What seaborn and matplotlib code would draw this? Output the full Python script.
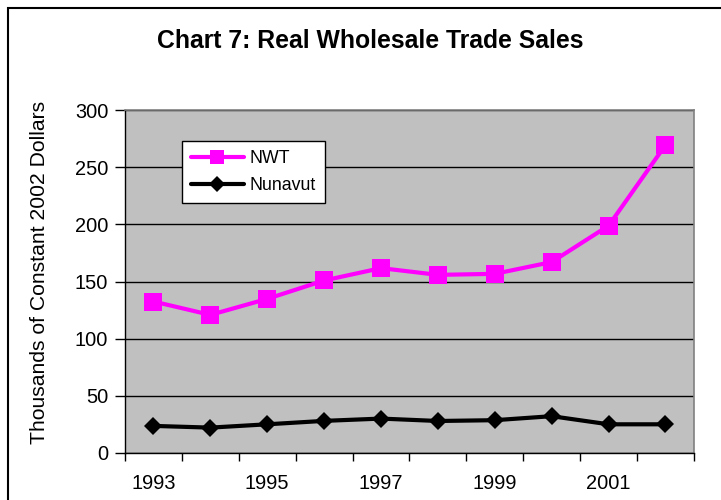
import numpy as np
import pandas as pd
import matplotlib
matplotlib.use("Agg")
import matplotlib.pyplot as plt
from matplotlib.patches import Rectangle
from matplotlib.ticker import FixedLocator, NullFormatter
import seaborn as sns

# Données
years = [1993, 1994, 1995, 1996, 1997, 1998, 1999, 2000, 2001, 2002]
nwt = [132.5, 120.8, 134.8, 150.9, 161.7, 155.8, 156.7, 167.0, 198.8, 269.3]
nunavut = [23.7, 22.2, 25.1, 28.1, 30.1, 28.0, 28.7, 32.2, 25.1, 25.1]
series = ["NWT", "Nunavut"]
year_labels = [1993, 1995, 1997, 1999, 2001]

df = pd.DataFrame({
    "year": years * 2,
    "value": nwt + nunavut,
    "series": ["NWT"] * len(years) + ["Nunavut"] * len(years),
})

sns.set_style("white")
plt.rcParams["font.family"] = ["Liberation Sans", "DejaVu Sans"]
plt.rcParams.update({"text.color": "black", "axes.labelcolor": "black",
                     "xtick.color": "black", "ytick.color": "black"})

fig = plt.figure(figsize=(7.21, 5.0), dpi=100)
ax = fig.add_axes([0.1734, 0.094, 0.789, 0.686])
ax.set_facecolor("#C0C0C0")

sns.lineplot(
    data=df, x="year", y="value", hue="series", style="series",
    hue_order=series, style_order=series,
    palette={"NWT": "#FF00FF", "Nunavut": "#000000"},
    markers={"NWT": "s", "Nunavut": "D"}, dashes=False,
    linewidth=3, markersize=12, markeredgewidth=0, ax=ax,
)
for line, ms in zip(ax.lines[:2], [13, 9]):
    line.set_markersize(ms)

ax.set_xlim(1992.5, 2002.5)
ax.set_ylim(0, 300)
ax.set_yticks(range(0, 301, 50))
ax.yaxis.grid(True, color="black", linewidth=1)
ax.set_axisbelow(True)

ax.xaxis.set_major_locator(FixedLocator(np.arange(1992.5, 2003, 1)))
ax.xaxis.set_major_formatter(NullFormatter())
ax.xaxis.set_minor_locator(FixedLocator(year_labels))
ax.set_xticklabels([str(y) for y in year_labels], minor=True)
ax.tick_params(axis="x", which="major", direction="out", length=6, color="black", width=1, bottom=True)
ax.tick_params(axis="x", which="minor", length=0, labelsize=14.4, pad=15)
ax.tick_params(axis="y", direction="out", length=7, color="black", width=1, left=True, labelsize=14.4, pad=5)

for side in ["left", "bottom"]:
    ax.spines[side].set_color("black")
    ax.spines[side].set_linewidth(1)
for side in ["top", "right"]:
    ax.spines[side].set_color("#808080")
    ax.spines[side].set_linewidth(1.2)

ax.set_xlabel("")
ax.set_ylabel("Thousands of Constant 2002 Dollars", fontsize=15.2)
ax.yaxis.set_label_coords(-0.133, 0.525)
fig.text(0.513, 0.918, "Chart 7: Real Wholesale Trade Sales", fontsize=17.8,
         fontweight="bold", ha="center", va="center")

handles, labels = ax.get_legend_handles_labels()
leg = ax.legend(handles, labels, loc="upper left", bbox_to_anchor=(0.1, 0.91),
                borderaxespad=0, frameon=True, fancybox=False, framealpha=1,
                fontsize=12.8, handlelength=3.0, borderpad=0.5, labelspacing=0.6,
                handletextpad=0.3)
leg.get_frame().set_edgecolor("black")
leg.get_frame().set_linewidth(1)
leg.get_frame().set_facecolor("white")
for h, ms in zip(leg.legend_handles, [10, 8]):
    h.set_markersize(ms)

fig.patches.append(Rectangle((8 / 721, -0.05), 1.1, 1 - 8 / 500 + 0.05, transform=fig.transFigure,
                             fill=False, edgecolor="black", linewidth=1.5))

fig.savefig("out.png", dpi=100)
